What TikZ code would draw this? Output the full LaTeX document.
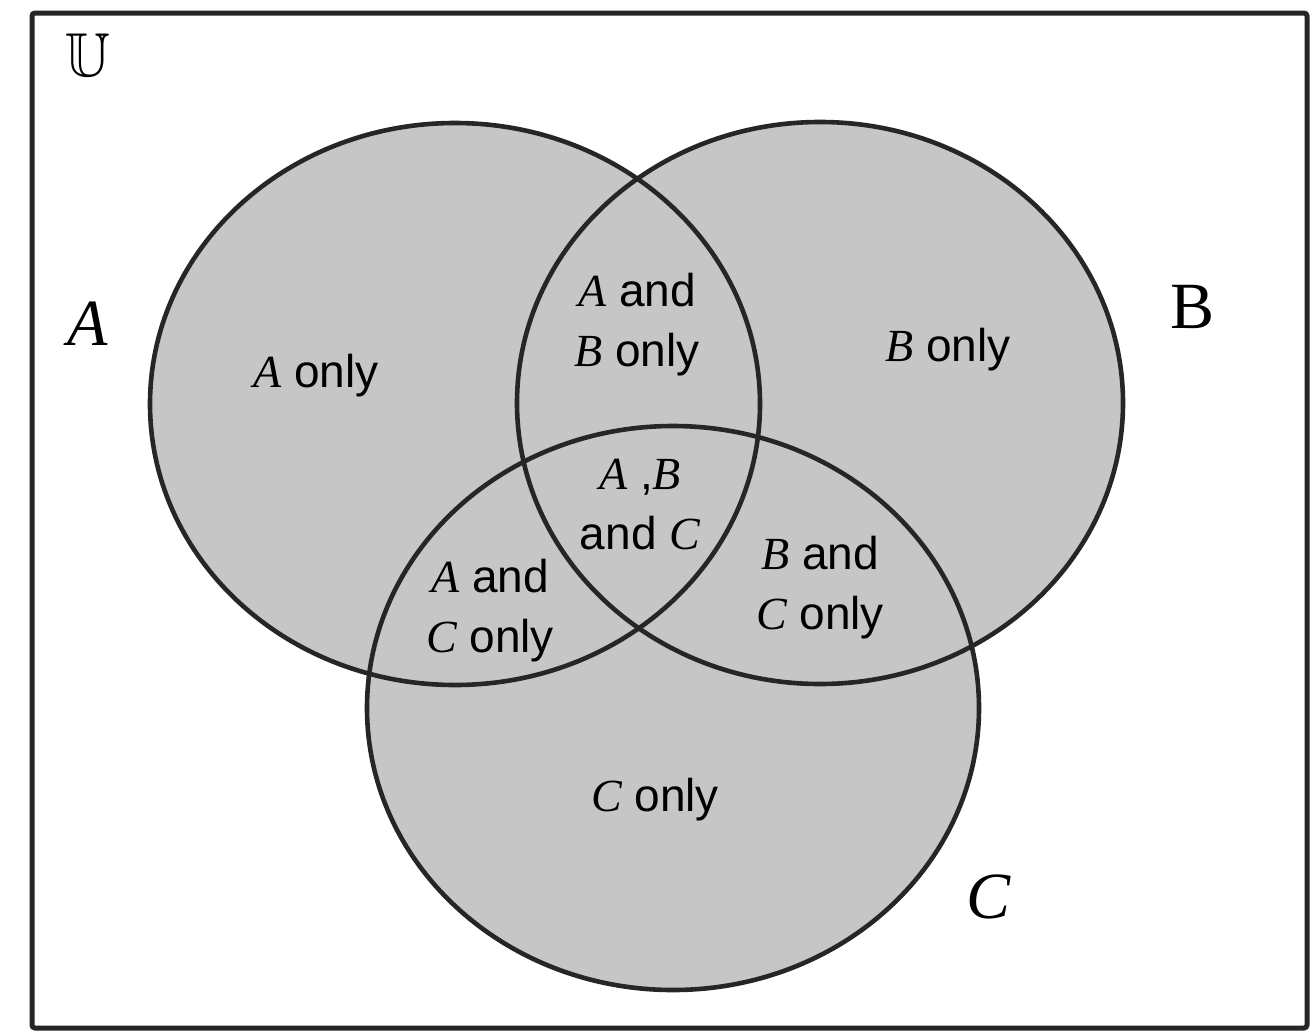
\documentclass[tikz,border=0pt]{standalone}
\usepackage{amssymb}
\usepackage{fontspec}
\setmainfont{Liberation Sans}
\newfontfamily\varfont{Liberation Serif}
\newcommand{\V}[1]{{\varfont\itshape #1}}
\definecolor{setgray}{RGB}{198,198,198}
\definecolor{edge}{RGB}{38,38,38}
\begin{document}
\begin{tikzpicture}[x=1pt,y=-1pt,
  region/.style={align=center,font=\fontsize{46}{60}\selectfont},
  setname/.style={font=\fontsize{66}{70}\selectfont},
  outline/.style={draw=edge,line width=4.6pt}]
\useasboundingbox (0,0) rectangle (1314,1031);
% universal set
\draw[draw=edge,line width=5pt,rounded corners=3pt] (32,13) rectangle (1307,1028);
\node (U) at (88,55) {\fontsize{62}{66}\selectfont$\mathbb{U}$};
% sets
\coordinate (cA) at (455,404);
\coordinate (cB) at (820,403);
\coordinate (cC) at (673,708);
\fill[setgray] (cA) ellipse [x radius=305, y radius=281];
\fill[setgray] (cB) ellipse [x radius=303, y radius=281];
\fill[setgray] (cC) ellipse [x radius=306, y radius=282];
\draw[outline] (cA) ellipse [x radius=305, y radius=281];
\draw[outline] (cB) ellipse [x radius=303, y radius=281];
\draw[outline] (cC) ellipse [x radius=306, y radius=282];
% set names
\node[setname] (nA) at (88,324) {\V{A}};
\node[setname] (nB) at (1192,307) {\varfont B};
\node[setname] (nC) at (988,897) {\V{C}};
% regions
\node[region] (rA)   at (316,376) {\V{A} only};
\node[region] (rAB)  at (637,325) {\V{A} and\\\V{B} only};
\node[region] (rB)   at (948,350) {\V{B} only};
\node[region] (rABC) at (640,505) {\V{A} ,\V{B}\\and \V{C}};
\node[region] (rAC)  at (490,611) {\V{A} and\\\V{C} only};
\node[region] (rBC)  at (820,588) {\V{B} and\\\V{C} only};
\node[region] (rC)   at (655,800) {\V{C} only};
\end{tikzpicture}
\end{document}
